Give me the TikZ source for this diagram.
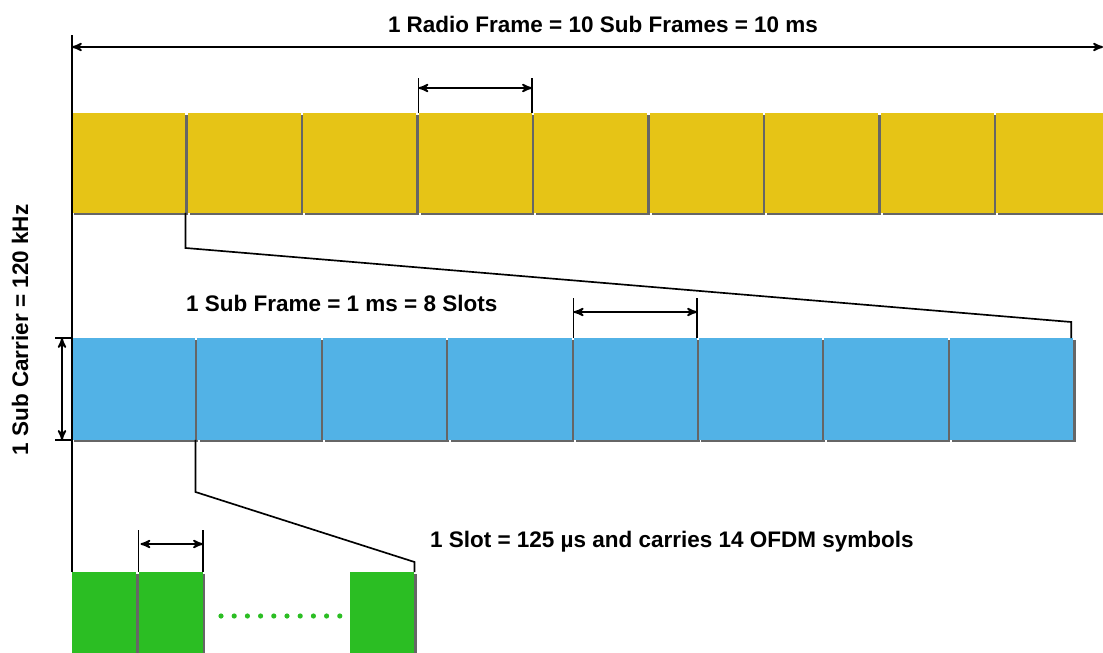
\documentclass[tikz,border=0pt]{standalone}
\usepackage{fontspec}
\setmainfont{Liberation Sans}
\usetikzlibrary{arrows,positioning,calc,shadows}
\definecolor{frameyellow}{RGB}{230,196,22}
\definecolor{slotblue}{RGB}{82,178,230}
\definecolor{symgreen}{RGB}{43,190,35}
\tikzset{
	cell/.style = {
		rectangle, 
		inner sep=0pt, 
		outer sep=0pt, 
		anchor=north west,
		drop shadow={shadow xshift=1.4pt, shadow yshift=-1.4pt, fill=black!80, opacity=.75}
	},
	subframe/.style = {
		cell, 
		fill=frameyellow, 
		minimum width=2.27cm, 
		minimum height=2cm
	},
	slot/.style = {
		cell, 
		fill=slotblue, 
		minimum width=2.47cm, 
		minimum height=2.04cm
	},
	symbol/.style = {
		cell, 
		fill=symgreen, 
		minimum width=1.29cm, 
		minimum height=2cm
	},
	dim/.style = {
		<->, 
		>=stealth', 
		line width=1pt
	},
	guide/.style = {
		line width=0.95pt
	},
	caption/.style = {
		font=\bfseries\fontsize{12.8}{14}\selectfont,
		inner sep=1pt
	}
}

\begin{document}
\begin{tikzpicture}[x=0.02cm, y=-0.02cm]
		
		\useasboundingbox (0,0) rectangle (1103,653);
		
		% --- Filas de bloques ---
		\foreach \i in {1,...,9}
		\node [subframe] (y\i) at ({72+(\i-1)*115.5},113) {};
		
		\foreach \i in {1,...,8}
		\node [slot] (b\i) at ({72+(\i-1)*125.4},338) {};
		
		\node [symbol] (g1) at (72,572) {};
		\node [symbol] (g2) at (138.5,572) {};
		\node [symbol] (g3) at (350,572) {};
		
		\foreach \k in {0,...,9}
		\fill [symgreen] ({221+\k*13.2},616) circle (2.6);
		
		% --- Trama de radio ---
		\coordinate (frameL) at (72,47);
		\coordinate (frameR) at (1103,47);
		\coordinate (axisTop) at (72,35);
		\draw [guide] (axisTop) -- (g1.north west);
		\draw [dim] (frameL) -- (frameR);
		\node [caption] (radio) at (603,24) {1 Radio Frame = 10 Sub Frames = 10 ms};
		
		% Cota de una subtrama
		\draw [guide] (y4.north west) -- ++(0,-35);
		\draw [guide] (y4.north east) -- ++(0,-35);
		\draw [dim] ($(y4.north west)+(0,-25)$) -- ($(y4.north east)+(0,-25)$);
		
		% Ampliacion de la subtrama
		\coordinate (zoomA) at ($(y1.south east)+(0,35)$);
		\coordinate (zoomB) at ($(b8.north east)+(-2,-16)$);
		\draw [guide] (y1.south east) -- (zoomA) -- (zoomB) -- ($(b8.north east)+(-2,0)$);
		\node [caption, anchor=west] (subf) at (184,303) {1 Sub Frame = 1 ms = 8 Slots};
		
		% Cota de un slot
		\draw [guide] (b5.north west) -- ++(0,-40);
		\draw [guide] (b5.north east) -- ++(0,-40);
		\draw [dim] ($(b5.north west)+(0,-26)$) -- ($(b5.north east)+(0,-26)$);
		
		% Cota de subportadora
		\draw [guide] (b1.north west) -- ++(-17,0);
		\draw [guide] (b1.south west) -- ++(-17,0);
		\draw [dim] ($(b1.north west)+(-10,0)$) -- ($(b1.south west)+(-10,0)$);
		\node [caption, rotate=90] (carrier) at (20,330) {1 Sub Carrier = 120 kHz};
		
		% Ampliacion del slot
		\coordinate (zoomC) at ($(b1.south east)+(0,52)$);
		\coordinate (zoomD) at ($(g3.north east)+(0,-10)$);
		\draw [guide] (b1.south east) -- (zoomC) -- (zoomD) -- (g3.north east);
		\node [caption, anchor=west] (slotlbl) at (428,542) {1 Slot = 125 µs and carries 14 OFDM symbols};
		
		% Cota de un simbolo
		\draw [guide] (g2.north west) -- ++(0,-42);
		\draw [guide] (g2.north east) -- ++(0,-42);
		\draw [dim] ($(g2.north west)+(2,-28)$) -- ($(g2.north east)+(0,-28)$);
		
	\end{tikzpicture}
\end{document}
